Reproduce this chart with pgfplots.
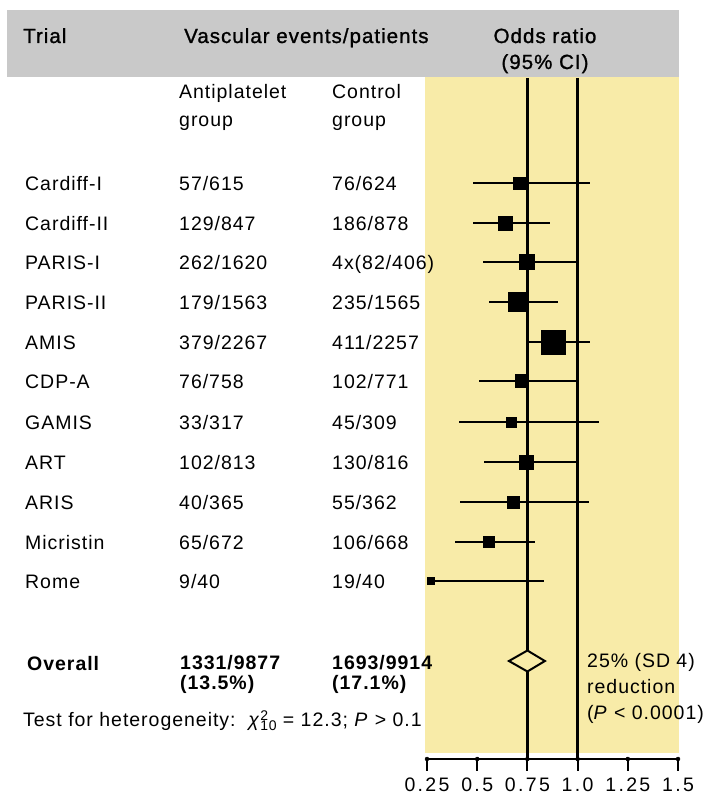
\documentclass[border=0pt]{standalone}
\usepackage{pgfplots}
\pgfplotsset{compat=1.18}
\usepackage{pgfplotstable}
\usepackage{fontspec}
\setmainfont{Liberation Sans}[LetterSpace=5]
\newfontfamily\tickfont{Liberation Sans}[LetterSpace=12]
\newfontfamily\headfont{Liberation Sans}[LetterSpace=5, FakeBold=1.2]
\definecolor{ybg}{RGB}{248,235,168}
\definecolor{hgray}{RGB}{201,201,201}
\newcommand{\fs}{\fontsize{19.5}{23}\selectfont}
\newcommand{\hfs}{\fontsize{20.5}{24}\selectfont}

% y = minus the row position; or = odds ratio; lo/hi = 95% CI; h = half side of square
\pgfplotstableread{
y     or     lo     hi     h
-183  0.708  0.479  1.061  6
-223  0.638  0.479  0.862  7
-262  0.748  0.529  0.995  7.5
-302  0.703  0.559  0.902  9.5
-342  0.877  0.755  1.061  12
-381  0.723  0.509  0.995  6.5
-422  0.668  0.409  1.106  5
-462  0.743  0.534  0.990  7
-502  0.678  0.414  1.056  6
-542  0.558  0.389  0.787  5.5
-581  0.270  0.250  0.832  3.5
}\trials

\begin{document}
\begin{tikzpicture}[every node/.style={inner sep=0pt}]
\path[use as bounding box] (0pt,0pt) rectangle (705pt,-797pt);
\fill[hgray] (7pt,-10pt) rectangle (679pt,-77pt);
\fill[ybg] (425pt,-77pt) rectangle (679pt,-753pt);
\begin{axis}[
  at={(427pt,-759pt)}, anchor=south west,
  width=251pt, height=681pt, scale only axis,
  xmin=0.25, xmax=1.5, ymin=-759, ymax=-78,
  enlargelimits=false, clip=false,
  axis line style={draw=none},
  xtick={0.25,0.5,0.75,1,1.25,1.5},
  xticklabels={0.25,0.5,0.75,1.0,1.25,1.5},
  xtick pos=lower,
  major tick length=0pt,
  xticklabel style={font=\tickfont\fs, anchor=north, yshift=-19pt},
  ytick=\empty,
]
% x axis line
\addplot[black, line width=2pt, line cap=rect, forget plot] coordinates {(0.25,-759) (1.5,-759)};
% downward tick marks under the axis line (drawn as 12-unit error bars)
\addplot[only marks, mark=none, forget plot,
  error bars/.cd, y dir=minus, y explicit, error mark=none,
  error bar style={line width=2pt, black}]
  coordinates {(0.25,-759) -= (0,12) (0.5,-759) -= (0,12) (0.75,-759) -= (0,12)
               (1,-759) -= (0,12) (1.25,-759) -= (0,12) (1.5,-759) -= (0,12)};
% reference lines at OR 0.75 and 1.0
\addplot[black, line width=2.5pt] coordinates {(0.75,-78) (0.75,-759)};
\addplot[black, line width=2.5pt] coordinates {(1,-78) (1,-759)};
% trials: squares with 95% CI
\addplot[only marks, mark=square*, black,
  scatter, scatter/use mapped color={draw=black, fill=black},
  visualization depends on={\thisrow{h} \as \msize},
  scatter/@pre marker code/.append style={/tikz/mark size=\msize},
  error bars/.cd, x dir=both, x explicit, error mark=none,
  error bar style={line width=2pt, black}]
  table[x=or, y=y,
        x error plus expr=\thisrow{hi}-\thisrow{or},
        x error minus expr=\thisrow{or}-\thisrow{lo}] {\trials};
% overall diamond
\addplot[black, line width=2pt, fill=ybg, line join=miter]
  coordinates {(0.658,-661) (0.75,-650.5) (0.837,-661) (0.75,-671.5)} -- cycle;
\end{axis}

\begin{scope}[every node/.style={inner sep=0pt, font=\fs, anchor=base west}]
% header
\node[font=\headfont\hfs] at (23pt,-43pt) {Trial};
\node[font=\headfont\hfs] at (184pt,-43pt) {Vascular events/patients};
\node[font=\headfont\hfs, anchor=base] at (545pt,-43pt) {Odds ratio};
\node[font=\headfont\hfs, anchor=base] at (545pt,-69pt) {(95\% CI)};
\node at (179pt,-99pt) {Antiplatelet};
\node at (179pt,-127pt) {group};
\node at (332pt,-99pt) {Control};
\node at (332pt,-127pt) {group};
% rows
\node at (25pt,-190pt) {Cardiff-I};   \node at (179pt,-190pt) {57/615};   \node at (332pt,-190pt) {76/624};
\node at (25pt,-230pt) {Cardiff-II};  \node at (179pt,-230pt) {129/847};  \node at (332pt,-230pt) {186/878};
\node at (25pt,-269pt) {PARIS-I};     \node at (179pt,-269pt) {262/1620}; \node at (332pt,-269pt) {4x(82/406)};
\node at (25pt,-309pt) {PARIS-II};    \node at (179pt,-309pt) {179/1563}; \node at (332pt,-309pt) {235/1565};
\node at (25pt,-349pt) {AMIS};        \node at (179pt,-349pt) {379/2267}; \node at (332pt,-349pt) {411/2257};
\node at (25pt,-388pt) {CDP-A};       \node at (179pt,-388pt) {76/758};   \node at (332pt,-388pt) {102/771};
\node at (25pt,-429pt) {GAMIS};       \node at (179pt,-429pt) {33/317};   \node at (332pt,-429pt) {45/309};
\node at (25pt,-469pt) {ART};         \node at (179pt,-469pt) {102/813};  \node at (332pt,-469pt) {130/816};
\node at (25pt,-509pt) {ARIS};        \node at (179pt,-509pt) {40/365};   \node at (332pt,-509pt) {55/362};
\node at (25pt,-549pt) {Micristin};   \node at (179pt,-549pt) {65/672};   \node at (332pt,-549pt) {106/668};
\node at (25pt,-588pt) {Rome};        \node at (179pt,-588pt) {9/40};     \node at (332pt,-588pt) {19/40};
% overall
\node[font=\fs\bfseries] at (27pt,-670pt) {Overall};
\node[font=\fs\bfseries] at (180pt,-669pt) {1331/9877};
\node[font=\fs\bfseries] at (180pt,-689pt) {(13.5\%)};
\node[font=\fs\bfseries] at (332pt,-669pt) {1693/9914};
\node[font=\fs\bfseries] at (332pt,-689pt) {(17.1\%)};
% heterogeneity
\node at (23pt,-726pt) {Test for heterogeneity:\ \ \textit{χ}\rlap{\raisebox{6pt}{\fontsize{14}{14}\selectfont 2}}\raisebox{-4pt}{\fontsize{14}{14}\selectfont 10} = 12.3; \textit{P} > 0.1};
% reduction
\node at (587pt,-667pt) {25\% (SD 4)};
\node at (587pt,-693pt) {reduction};
\node at (587pt,-719pt) {(\textit{P} < 0.0001)};
\end{scope}
\end{tikzpicture}
\end{document}
